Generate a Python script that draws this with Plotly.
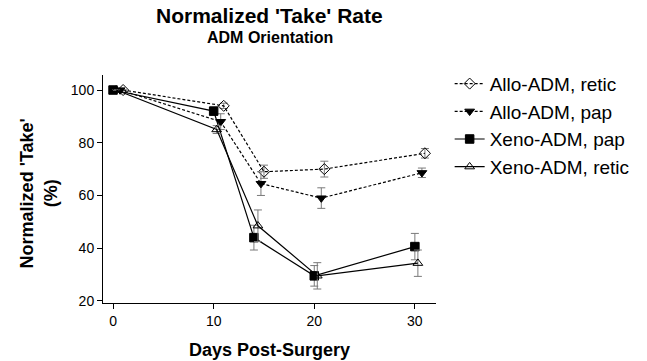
import plotly.graph_objects as go

# ---- data ----
series_names = ["Allo-ADM, retic", "Allo-ADM, pap", "Xeno-ADM, pap", "Xeno-ADM, retic"]

allo_retic_days = [1, 11, 15, 21, 31]
allo_retic_take = [100, 94, 69, 70, 76]
allo_retic_err = [0, 1, 2.5, 3, 1.8]

allo_pap_days = [0.7, 10.7, 14.7, 20.7, 30.7]
allo_pap_take = [100, 88, 64.5, 59, 68.6]
allo_pap_err = [0, 3, 4.5, 3.9, 1.8]

xeno_pap_days = [0, 10, 14, 20, 30]
xeno_pap_take = [100, 92, 44, 29.5, 40.6]
xeno_pap_err = [0, 1.5, 4.7, 3.9, 5]

xeno_retic_days = [0.3, 10.3, 14.4, 20.3, 30.3]
xeno_retic_take = [100, 85, 48.5, 29.5, 34.3]
xeno_retic_err = [0, 1.5, 6, 5, 5]

x_ticks = [0, 10, 20, 30]
y_ticks = [20, 40, 60, 80, 100]

FONT = "Arial, Liberation Sans, sans-serif"
ERR_COLOR = "#7a7a7a"

fig = go.Figure()

def add(name, xs, ys, es, symbol, dash, msize):
    fig.add_trace(go.Scatter(
        x=xs, y=ys, name=name, mode="lines+markers",
        legendgroup=name,
        line=dict(color="black", width=1.2, dash=dash),
        marker=dict(symbol=symbol, size=msize, color="black",
                    line=dict(color="black", width=1)),
        error_y=dict(type="data", array=es, visible=True,
                     color=ERR_COLOR, thickness=1, width=4),
    ))

add(series_names[0], allo_retic_days, allo_retic_take, allo_retic_err, "diamond-open", "3px,2px", 8.5)
add(series_names[1], allo_pap_days, allo_pap_take, allo_pap_err, "triangle-down", "3px,2px", 8.5)
add(series_names[2], xeno_pap_days, xeno_pap_take, xeno_pap_err, "square", "solid", 8.5)
add(series_names[3], xeno_retic_days, xeno_retic_take, xeno_retic_err, "triangle-up-open", "solid", 8.5)

plot_top, plot_bottom, plot_h = 75, 303, 228

def ypaper(px):
    return (plot_bottom - px) / plot_h

fig.update_layout(
    width=647, height=361,
    margin=dict(l=103, r=204, t=75, b=58),
    paper_bgcolor="white", plot_bgcolor="white",
    font=dict(family=FONT, color="black", size=14),
    showlegend=True,
    legend=dict(x=1.041, y=1.045, xanchor="left", yanchor="top",
                font=dict(size=19, family=FONT), tracegroupgap=8,
                traceorder="normal", bgcolor="rgba(0,0,0,0)"),
    xaxis=dict(range=[-1, 32.1], tickvals=x_ticks, ticks="outside", ticklen=5,
               tickcolor="black", showline=True, linecolor="black", linewidth=1,
               showgrid=False, zeroline=False, tickfont=dict(size=14)),
    yaxis=dict(range=[19.2, 105.7], tickvals=y_ticks, ticks="outside", ticklen=5,
               tickcolor="black", showline=True, linecolor="black", linewidth=1,
               showgrid=False, zeroline=False, tickfont=dict(size=14)),
    annotations=[
        dict(text="<b>Normalized 'Take' Rate</b>", x=0.5, y=ypaper(15), xref="paper", yref="paper",
             yanchor="middle", xanchor="center", showarrow=False, font=dict(size=21)),
        dict(text="<b>ADM Orientation</b>", x=0.5, y=ypaper(37.5), xref="paper", yref="paper",
             yanchor="middle", xanchor="center", showarrow=False, font=dict(size=16)),
        dict(text="<b>Normalized 'Take'<br>(%)</b>", x=-0.194, y=ypaper(193), xref="paper", yref="paper",
             textangle=-90, xanchor="center", yanchor="middle", showarrow=False,
             font=dict(size=18)),
        dict(text="<b>Days Post-Surgery</b>", x=0.5, y=ypaper(350), xref="paper", yref="paper",
             xanchor="center", yanchor="middle", showarrow=False, font=dict(size=18)),
    ],
)

fig.write_html("out.html", config={"displayModeBar": False},
               post_script="document.body.style.margin='0';document.body.style.overflow='hidden';")
